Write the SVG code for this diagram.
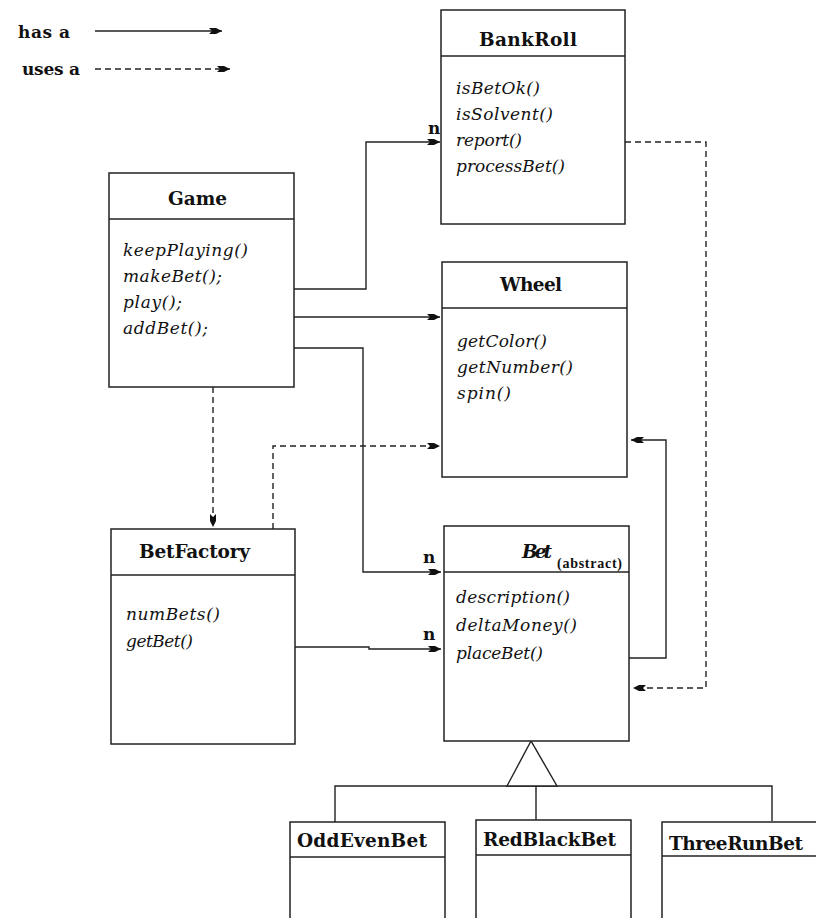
<svg xmlns="http://www.w3.org/2000/svg" width="816" height="918" viewBox="0 0 816 918">
<style>
.box{fill:#fff;stroke:#222;stroke-width:1.5}
.ln{fill:none;stroke:#222;stroke-width:1.4}
.solid{fill:none;stroke:#222;stroke-width:1.4;marker-end:url(#arr)}
.dash{fill:none;stroke:#222;stroke-width:1.4;stroke-dasharray:6 4;marker-end:url(#arr)}
.title{font-family:"DejaVu Serif","Liberation Serif",serif;font-weight:bold;font-size:18.5px;fill:#111}
.m{font-family:"DejaVu Serif","Liberation Serif",serif;font-style:italic;font-size:17px;fill:#111}
.n{font-family:"DejaVu Serif","Liberation Serif",serif;font-weight:bold;font-size:17px;fill:#111}
.abs{font-family:"Liberation Serif","DejaVu Serif",serif;font-weight:bold;font-size:14px;fill:#111}
</style>
<defs>
<marker id="arr" viewBox="-14 -4 15 8" markerWidth="15" markerHeight="8" refX="0" refY="0" orient="auto" markerUnits="userSpaceOnUse">
<path d="M0,0 L-6,-3 L-13,-3 L-10,0 L-13,3 L-6,3 Z" fill="#111"/>
</marker>
</defs>
<rect width="816" height="918" fill="#fff"/>

<g id="legend">
<text class="n" x="18" y="38" textLength="52">has a</text>
<text class="n" x="22" y="75" textLength="58">uses a</text>
<line class="solid" x1="95" y1="31" x2="222" y2="31"/>
<line class="dash" x1="95" y1="69" x2="230" y2="69"/>
</g>

<g id="connectors">
<polyline class="solid" points="294,289 366,289 366,142 440,142"/>
<line class="solid" x1="294" y1="317" x2="440" y2="317"/>
<polyline class="solid" points="294,348 363,348 363,572 441,572"/>
<line class="dash" x1="213" y1="387" x2="213" y2="527"/>
<polyline class="dash" points="273,529 273,446 440,446"/>
<polyline class="solid" points="295,647 369,647 369,649 441,649"/>
<polyline class="solid" points="629,658 666,658 666,440 631,440"/>
<polyline class="dash" points="625,142 706,142 706,688 633,688"/>
<polyline class="ln" points="335,822 335,786 772,786 772,821"/>
<line class="ln" x1="536" y1="786" x2="536" y2="820"/>
<polygon points="531,741 507,786 557,786" fill="#fff" stroke="#222" stroke-width="1.4"/>
<text class="n" x="428" y="134">n</text>
<text class="n" x="423" y="563">n</text>
<text class="n" x="423" y="640">n</text>
</g>

<g id="BankRoll">
<rect class="box" x="441" y="10" width="184" height="214"/>
<line class="ln" x1="441" y1="56" x2="625" y2="56"/>
<text class="title" x="479" y="46" textLength="98">BankRoll</text>
<text class="m" x="456" y="94" textLength="84">isBetOk()</text>
<text class="m" x="456" y="120" textLength="97">isSolvent()</text>
<text class="m" x="456" y="146" textLength="66">report()</text>
<text class="m" x="456" y="172" textLength="109">processBet()</text>
</g>

<g id="Game">
<rect class="box" x="109" y="173" width="185" height="214"/>
<line class="ln" x1="109" y1="219" x2="294" y2="219"/>
<text class="title" x="168" y="205" textLength="59">Game</text>
<text class="m" x="123" y="256" textLength="125">keepPlaying()</text>
<text class="m" x="123" y="282" textLength="99">makeBet();</text>
<text class="m" x="123" y="308" textLength="59">play();</text>
<text class="m" x="123" y="334" textLength="85">addBet();</text>
</g>

<g id="Wheel">
<rect class="box" x="442" y="262" width="185" height="215"/>
<line class="ln" x1="442" y1="308" x2="627" y2="308"/>
<text class="title" x="500" y="291" textLength="62">Wheel</text>
<text class="m" x="457" y="347" textLength="90">getColor()</text>
<text class="m" x="457" y="373" textLength="116">getNumber()</text>
<text class="m" x="457" y="399" textLength="54">spin()</text>
</g>

<g id="BetFactory">
<rect class="box" x="111" y="529" width="184" height="215"/>
<line class="ln" x1="111" y1="575" x2="295" y2="575"/>
<text class="title" x="139" y="558" textLength="111">BetFactory</text>
<text class="m" x="126" y="620" textLength="94">numBets()</text>
<text class="m" x="126" y="647" textLength="67">getBet()</text>
</g>

<g id="Bet">
<rect class="box" x="444" y="526" width="185" height="215"/>
<line class="ln" x1="444" y1="572" x2="629" y2="572"/>
<text class="title" x="522" y="558" font-style="italic" textLength="30">Bet</text>
<text class="abs" x="557" y="568" textLength="65">(abstract)</text>
<text class="m" x="456" y="603" textLength="114">description()</text>
<text class="m" x="456" y="631" textLength="121">deltaMoney()</text>
<text class="m" x="456" y="659" textLength="87">placeBet()</text>
</g>

<g id="OddEvenBet">
<rect class="box" x="290" y="822" width="155" height="110"/>
<line class="ln" x1="290" y1="857" x2="445" y2="857"/>
<text class="title" x="297" y="847" textLength="130">OddEvenBet</text>
</g>

<g id="RedBlackBet">
<rect class="box" x="476" y="820" width="155" height="110"/>
<line class="ln" x1="476" y1="855" x2="631" y2="855"/>
<text class="title" x="483" y="846" textLength="133">RedBlackBet</text>
</g>

<g id="ThreeRunBet">
<rect class="box" x="662" y="822" width="170" height="110"/>
<line class="ln" x1="662" y1="856" x2="832" y2="856"/>
<text class="title" x="669" y="850" textLength="134">ThreeRunBet</text>
</g>
</svg>
